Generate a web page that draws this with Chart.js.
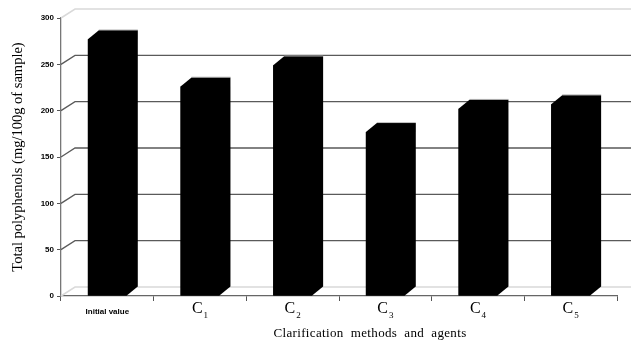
<!DOCTYPE html>
<html>
<head>
<meta charset="utf-8">
<script src="https://cdn.jsdelivr.net/npm/chart.js@4/dist/chart.umd.min.js"></script>
<style>
  html, body { margin: 0; padding: 0; background: #fff; }
</style>
</head>
<body>
<canvas id="chart" width="632" height="342"></canvas>
<script>
// Total polyphenols after each clarification treatment (mg/100g of sample)
const categories = ['Initial value', 'C1', 'C2', 'C3', 'C4', 'C5'];
const polyphenols = [277, 226, 249, 177, 202, 207];
const yTickValues = [0, 50, 100, 150, 200, 250, 300];
const xTitle = 'Clarification methods and agents';

// 3-D look: depth of the back wall and of each bar
const WALL_DX = 14, WALL_DY = -9;
const BAR_DX = 11, BAR_DY = -9;

const backWall = {
  id: 'backWall',
  beforeDatasetsDraw(chart) {
    const { ctx, chartArea, scales: { y } } = chart;
    const x0 = chartArea.left;
    const x1 = chartArea.right + WALL_DX;
    ctx.save();
    yTickValues.forEach(v => {
      const py = y.getPixelForValue(v);
      const edge = (v === yTickValues[0] || v === yTickValues[yTickValues.length - 1]);
      ctx.strokeStyle = edge ? '#d9d9d9' : '#5a5a5a';
      ctx.lineWidth = edge ? 1.5 : 1.3;
      ctx.beginPath();
      ctx.moveTo(x0, py);
      ctx.lineTo(x0 + WALL_DX, py + WALL_DY);
      ctx.lineTo(x1, py + WALL_DY);
      ctx.stroke();
    });
    ctx.restore();
  }
};

// Each bar is drawn as one solid block: front, top and right side together
const bars3d = {
  id: 'bars3d',
  afterDatasetsDraw(chart) {
    const { ctx } = chart;
    const meta = chart.getDatasetMeta(0);
    ctx.save();
    meta.data.forEach(bar => {
      const { x, y, base, width } = bar.getProps(['x', 'y', 'base', 'width'], true);
      const l = x - width / 2, r = x + width / 2;
      ctx.fillStyle = '#000';
      ctx.beginPath();
      ctx.moveTo(l, base);
      ctx.lineTo(l, y);
      ctx.lineTo(l + BAR_DX, y + BAR_DY);
      ctx.lineTo(r + BAR_DX, y + BAR_DY);
      ctx.lineTo(r + BAR_DX, base + BAR_DY);
      ctx.lineTo(r, base);
      ctx.closePath();
      ctx.fill();
      ctx.strokeStyle = '#a0a0a0';
      ctx.lineWidth = 0.7;
      ctx.beginPath();
      ctx.moveTo(l + BAR_DX, y + BAR_DY - 0.4);
      ctx.lineTo(r + BAR_DX, y + BAR_DY - 0.4);
      ctx.stroke();
    });
    ctx.restore();
  }
};

// Category labels (plain bold text, or a serif "C" with a subscript number) and the x-axis title
const categoryLabels = {
  id: 'categoryLabels',
  afterDraw(chart) {
    const { ctx, chartArea, scales: { x } } = chart;
    ctx.save();
    ctx.fillStyle = '#000';
    ctx.textBaseline = 'alphabetic';
    categories.forEach((label, i) => {
      const cx = x.getPixelForValue(i);
      const m = label.match(/^([A-Za-z]+)(\d+)$/);
      if (m) {
        const mainFont = '16px "Liberation Serif", "Times New Roman", serif';
        const subFont = '9px "Liberation Serif", "Times New Roman", serif';
        ctx.font = mainFont;
        const w1 = ctx.measureText(m[1]).width;
        ctx.font = subFont;
        const w2 = ctx.measureText(m[2]).width;
        const start = cx - (w1 + w2 + 1) / 2;
        ctx.textAlign = 'left';
        ctx.font = mainFont;
        ctx.fillText(m[1], start, 313);
        ctx.font = subFont;
        ctx.fillText(m[2], start + w1 + 1, 318);
      } else {
        ctx.font = 'bold 8px "Liberation Sans", Arial, sans-serif';
        ctx.textAlign = 'center';
        ctx.fillText(label, cx, 314);
      }
    });
    // x-axis title, set with a little extra letter and word spacing
    ctx.font = '13px "Liberation Serif", "Times New Roman", serif';
    ctx.letterSpacing = '0.35px';
    ctx.wordSpacing = '3.5px';
    ctx.textAlign = 'center';
    const midX = (chartArea.left + chartArea.right) / 2 + 31;
    ctx.fillText(xTitle, midX, 337);
    ctx.restore();
  }
};

new Chart(document.getElementById('chart'), {
  type: 'bar',
  data: {
    labels: categories,
    datasets: [{
      data: polyphenols,
      backgroundColor: '#000',
      borderWidth: 0,
      barPercentage: 0.42,
      categoryPercentage: 1.0
    }]
  },
  options: {
    responsive: false,
    animation: false,
    devicePixelRatio: 1,
    layout: { padding: { top: 18, right: 15, left: 0, bottom: 0 } },
    plugins: { legend: { display: false }, tooltip: { enabled: false } },
    scales: {
      x: {
        grid: { offset: true, drawOnChartArea: false, tickLength: 5, color: '#555', lineWidth: 1 },
        border: { color: '#666', width: 1.3 },
        ticks: { display: false },
        afterFit(scale) { scale.height = 46; }
      },
      y: {
        min: 0,
        max: 300,
        afterBuildTicks(scale) { scale.ticks = yTickValues.map(v => ({ value: v })); },
        grid: { drawOnChartArea: false, tickLength: 4, color: '#555' },
        border: { color: '#777', width: 1.3 },
        ticks: {
          font: { family: '"Liberation Sans", Arial, sans-serif', size: 8, weight: 'bold' },
          color: '#000',
          padding: 3
        },
        title: {
          display: true,
          text: 'Total polyphenols (mg/100g of sample)',
          font: { family: '"Liberation Serif", "Times New Roman", serif', size: 14.5 },
          color: '#000',
          padding: { top: 9, bottom: 0 }
        },
        afterFit(scale) { scale.width = 61; }
      }
    }
  },
  plugins: [backWall, bars3d, categoryLabels]
});
</script>
</body>
</html>
